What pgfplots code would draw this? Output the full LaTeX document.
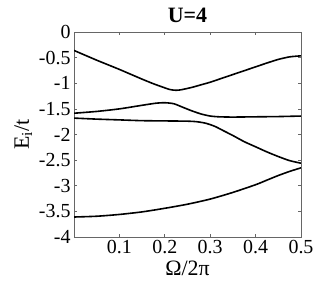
\documentclass[border=0pt]{standalone}
\usepackage{pgfplots}
\pgfplotsset{compat=1.18}
\usepackage{fontspec}
\setmainfont{Liberation Serif}
\begin{document}
\begin{tikzpicture}
\begin{axis}[
  scale only axis, width=227bp, height=205bp,
  xmin=0, xmax=0.5, ymin=-4, ymax=0,
  xtick={0.1,0.2,0.3,0.4,0.5},
  ytick={-4,-3.5,-3,-2.5,-2,-1.5,-1,-0.5,0},
  tick align=inside, major tick length=3bp,
  axis line style={black!60, line width=0.7bp},
  every tick/.style={black!60, line width=0.7bp},
  /pgf/number format/assume math mode=true,
  tick label style={font=\fontsize{20}{22}\selectfont},
  label style={font=\fontsize{22}{24}\selectfont},
  title style={font=\fontsize{22}{24}\selectfont\bfseries},
  title={U=4},
  xlabel={Ω/2π},
  ylabel={E\textsubscript{i}/t},
  cycle list={{black}},
  every axis plot/.append style={black, line width=1.6bp, no marks, smooth, tension=0.4},
]
\addplot coordinates {(0,-0.36) (0.025,-0.455) (0.05,-0.55) (0.075,-0.64) (0.1,-0.73) (0.125,-0.825) (0.15,-0.92) (0.175,-1.01) (0.2,-1.09) (0.21,-1.12) (0.22,-1.135) (0.23,-1.135) (0.24,-1.12) (0.26,-1.08) (0.28,-1.03) (0.3,-0.98) (0.325,-0.905) (0.35,-0.83) (0.375,-0.755) (0.4,-0.68) (0.425,-0.605) (0.45,-0.535) (0.475,-0.485) (0.5,-0.465)};
\addplot coordinates {(0,-1.585) (0.05,-1.55) (0.1,-1.50) (0.15,-1.43) (0.18,-1.39) (0.2,-1.38) (0.22,-1.40) (0.24,-1.47) (0.26,-1.54) (0.28,-1.60) (0.3,-1.64) (0.32,-1.655) (0.35,-1.66) (0.4,-1.655) (0.45,-1.65) (0.5,-1.64)};
\addplot coordinates {(0,-1.68) (0.05,-1.70) (0.1,-1.715) (0.15,-1.73) (0.2,-1.735) (0.25,-1.74) (0.27,-1.75) (0.29,-1.78) (0.31,-1.84) (0.33,-1.93) (0.35,-2.02) (0.375,-2.14) (0.4,-2.24) (0.425,-2.34) (0.45,-2.43) (0.475,-2.51) (0.5,-2.56)};
\addplot coordinates {(0,-3.61) (0.05,-3.595) (0.1,-3.56) (0.15,-3.51) (0.2,-3.44) (0.25,-3.36) (0.3,-3.26) (0.35,-3.13) (0.4,-2.98) (0.425,-2.89) (0.45,-2.80) (0.475,-2.72) (0.5,-2.65)};
\end{axis}
\pgfresetboundingbox
\path[use as bounding box] (-74bp,-54bp) rectangle (258bp,237bp);
\end{tikzpicture}
\end{document}
